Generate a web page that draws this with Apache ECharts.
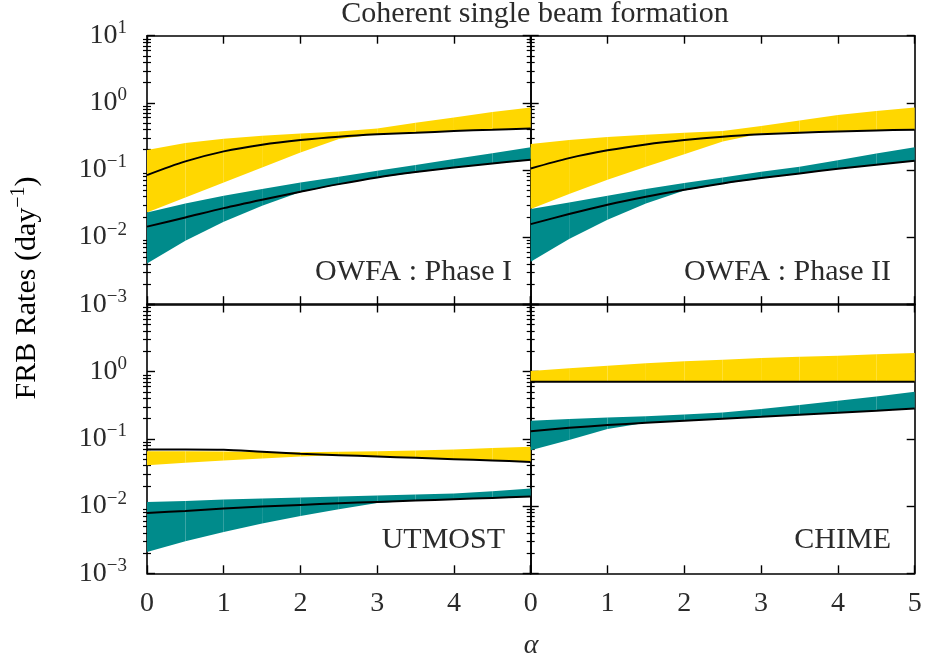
<!DOCTYPE html>
<html>
<head>
<meta charset="utf-8">
<script src="https://cdn.jsdelivr.net/npm/echarts@6/dist/echarts.min.js"></script>
<style>
  html, body { margin: 0; padding: 0; background: #fff; }
  #chart { width: 929px; height: 664px; }
</style>
</head>
<body>
<div id="chart"></div>
<script>
// alpha values, shared by every panel
const alpha = [0, 0.5, 1, 1.5, 2, 2.5, 3, 3.5, 4, 4.5, 5];

// OWFA : Phase I
const p1YellowHi  = [0.198, 0.251, 0.292, 0.323, 0.350, 0.375, 0.416, 0.505, 0.607, 0.728, 0.855];
const p1YellowLo  = [0.0233, 0.0390, 0.0652, 0.109, 0.182, 0.288, 0.342, 0.358, 0.380, 0.397, 0.416];
const p1YellowMid = [0.0838, 0.134, 0.189, 0.238, 0.279, 0.313, 0.339, 0.358, 0.380, 0.397, 0.416];
const p1TealHi    = [0.0233, 0.0317, 0.0413, 0.0519, 0.0652, 0.0792, 0.0973, 0.118, 0.145, 0.178, 0.217];
const p1TealLo    = [0.00405, 0.00881, 0.0169, 0.0293, 0.0468, 0.0609, 0.0766, 0.0919, 0.108, 0.124, 0.140];
const p1TealMid   = [0.0143, 0.0196, 0.0270, 0.0360, 0.0473, 0.0615, 0.0774, 0.0929, 0.109, 0.125, 0.142];

// OWFA : Phase II
const p2YellowHi  = [0.243, 0.279, 0.309, 0.335, 0.358, 0.380, 0.451, 0.547, 0.657, 0.754, 0.855];
const p2YellowLo  = [0.0261, 0.0437, 0.0714, 0.112, 0.172, 0.266, 0.350, 0.367, 0.380, 0.388, 0.397];
const p2YellowMid = [0.105, 0.150, 0.196, 0.240, 0.279, 0.313, 0.339, 0.358, 0.375, 0.388, 0.397];
const p2TealHi    = [0.0261, 0.0328, 0.0413, 0.0519, 0.0637, 0.0774, 0.0940, 0.112, 0.140, 0.176, 0.217];
const p2TealLo    = [0.00428, 0.00933, 0.0181, 0.0317, 0.0495, 0.0623, 0.0748, 0.0878, 0.103, 0.118, 0.136];
const p2TealMid   = [0.0156, 0.0220, 0.0303, 0.0399, 0.0507, 0.0630, 0.0757, 0.0888, 0.104, 0.120, 0.137];

// UTMOST
const p3YellowHi  = [0.0657, 0.0657, 0.0650, 0.0642, 0.0635, 0.0642, 0.0657, 0.0672, 0.0696, 0.0729, 0.0762];
const p3YellowLo  = [0.0406, 0.0440, 0.0477, 0.0511, 0.0547, 0.0573, 0.0547, 0.0523, 0.0499, 0.0477, 0.0455];
const p3YellowMid = [0.0696, 0.0696, 0.0688, 0.0642, 0.0601, 0.0573, 0.0547, 0.0523, 0.0499, 0.0477, 0.0455];
const p3TealHi    = [0.01155, 0.01195, 0.01252, 0.01295, 0.01340, 0.01387, 0.01435, 0.01485, 0.01537, 0.01666, 0.01826];
const p3TealLo    = [0.00208, 0.00300, 0.00413, 0.00549, 0.00714, 0.00898, 0.01116, 0.01209, 0.01266, 0.01325, 0.01387];
const p3TealMid   = [0.00792, 0.00848, 0.00919, 0.00984, 0.01042, 0.01103, 0.01155, 0.01209, 0.01266, 0.01325, 0.01387];

// CHIME
const p4YellowHi  = [1.023, 1.121, 1.228, 1.331, 1.426, 1.510, 1.598, 1.673, 1.732, 1.813, 1.897];
const p4YellowLo  = [0.709, 0.709, 0.709, 0.709, 0.709, 0.709, 0.709, 0.709, 0.709, 0.709, 0.709];
const p4YellowMid = [0.709, 0.709, 0.709, 0.709, 0.709, 0.709, 0.709, 0.709, 0.709, 0.709, 0.709];
const p4TealHi    = [0.1861, 0.1971, 0.2087, 0.218, 0.231, 0.248, 0.278, 0.319, 0.370, 0.429, 0.503];
const p4TealLo    = [0.0680, 0.0959, 0.1398, 0.1738, 0.1861, 0.1993, 0.2135, 0.229, 0.245, 0.262, 0.284];
const p4TealMid   = [0.1305, 0.1463, 0.1604, 0.1738, 0.1861, 0.1993, 0.2135, 0.229, 0.245, 0.262, 0.284];

const majorTicks = [0.001, 0.01, 0.1, 1, 10];
const minorTicks = [0.001, 0.01, 0.1, 1].flatMap(d => [2, 3, 4, 5, 6, 7, 8, 9].map(m => +(m * d).toPrecision(3)));

const panels = [
  { name: 'OWFA : Phase I',  yHi: p1YellowHi, yLo: p1YellowLo, yMid: p1YellowMid, tHi: p1TealHi, tLo: p1TealLo, tMid: p1TealMid },
  { name: 'OWFA : Phase II', yHi: p2YellowHi, yLo: p2YellowLo, yMid: p2YellowMid, tHi: p2TealHi, tLo: p2TealLo, tMid: p2TealMid },
  { name: 'UTMOST',          yHi: p3YellowHi, yLo: p3YellowLo, yMid: p3YellowMid, tHi: p3TealHi, tLo: p3TealLo, tMid: p3TealMid },
  { name: 'CHIME',           yHi: p4YellowHi, yLo: p4YellowLo, yMid: p4YellowMid, tHi: p4TealHi, tLo: p4TealLo, tMid: p4TealMid }
];

const FONT = '"Liberation Serif", "DejaVu Serif", serif';
const TXT = '#2b2b2b';
const YELLOW = '#FFD700';
const TEAL = '#008B8B';

const grids = [
  { left: 147,   top: 35.7,  width: 383.7, height: 268.5 },
  { left: 530.7, top: 35.7,  width: 384,   height: 268.5 },
  { left: 147,   top: 304.5, width: 383.7, height: 268.8 },
  { left: 530.7, top: 304.5, width: 384,   height: 268.8 }
].map(g => Object.assign({ containLabel: false }, g));

const tickRich = {
  b: { fontFamily: FONT, fontSize: 28, color: TXT },
  s: { fontFamily: FONT, fontSize: 19, color: TXT, padding: [0, 0, 15, 0] }
};
const titleRich = {
  b: { fontFamily: FONT, fontSize: 30, color: TXT },
  s: { fontFamily: FONT, fontSize: 20, color: TXT, padding: [0, 0, 16, 0] }
};

function expLabel(v) {
  const e = Math.round(Math.log10(v));
  return '{b|10}{s|' + (e < 0 ? '\u2212' + (-e) : e) + '}';
}

const frame = { show: true, onZero: false, lineStyle: { color: '#000', width: 1.6 } };

const xAxis = [];
const yAxis = [];
grids.forEach((g, i) => {
  const bottomRow = i >= 2;
  const leftCol = i % 2 === 0;
  xAxis.push({
    type: 'value', gridIndex: i, position: 'bottom', min: 0, max: 5, interval: 1,
    axisLine: frame,
    axisTick: { show: true, inside: true, length: 8, lineStyle: { color: '#000', width: 1.4 } },
    axisLabel: {
      show: bottomRow, margin: 16, fontFamily: FONT, fontSize: 28, color: TXT,
      formatter: v => (leftCol && v === 5) ? '' : String(v)
    },
    splitLine: { show: false }
  });
  xAxis.push({
    type: 'value', gridIndex: i, position: 'top', min: 0, max: 5, interval: 1,
    axisLine: frame,
    axisTick: { show: true, inside: true, length: 8, lineStyle: { color: '#000', width: 1.4 } },
    axisLabel: { show: false },
    splitLine: { show: false }
  });
  ['left', 'right'].forEach(pos => {
    yAxis.push({
      type: 'log', logBase: 10, gridIndex: i, position: pos, min: 0.001, max: 10,
      axisLine: frame,
      axisTick: { show: true, inside: true, length: 8, customValues: majorTicks, lineStyle: { color: '#000', width: 1.4 } },
      axisLabel: {
        show: pos === 'left' && leftCol, margin: 20,
        customValues: bottomRow ? majorTicks.slice(0, 4) : majorTicks,
        formatter: expLabel, rich: tickRich
      },
      splitLine: { show: false }
    });
  });
  ['left', 'right'].forEach(pos => {
    yAxis.push({
      type: 'log', logBase: 10, gridIndex: i, position: pos, min: 0.001, max: 10,
      axisLine: { show: false },
      axisTick: { show: true, inside: true, length: 4, customValues: minorTicks, lineStyle: { color: '#000', width: 1.2 } },
      axisLabel: { show: false },
      splitLine: { show: false }
    });
  });
});

// band drawn as one filled trapezoid per alpha step
function bandSeries(i, lo, hi, color) {
  const data = alpha.slice(0, -1).map((a, k) => [a, lo[k], hi[k], alpha[k + 1], lo[k + 1], hi[k + 1]]);
  return {
    type: 'custom', xAxisIndex: 2 * i, yAxisIndex: 4 * i,
    encode: { x: [0, 3], y: [1, 2, 4, 5] },
    data: data,
    renderItem: (params, api) => {
      const p0 = api.coord([api.value(0), api.value(2)]);
      const p1 = api.coord([api.value(3), api.value(5)]);
      const p2 = api.coord([api.value(3), api.value(4)]);
      const p3 = api.coord([api.value(0), api.value(1)]);
      return { type: 'polygon', shape: { points: [p0, p1, p2, p3] }, style: { fill: color } };
    },
    silent: true
  };
}

function lineSeries(i, vals) {
  return {
    type: 'line', xAxisIndex: 2 * i, yAxisIndex: 4 * i,
    data: alpha.map((a, k) => [a, vals[k]]),
    showSymbol: false, smooth: 0.3,
    lineStyle: { color: '#000', width: 2 },
    silent: true
  };
}

const series = [];
panels.forEach((p, i) => {
  series.push(bandSeries(i, p.yLo, p.yHi, YELLOW));
  series.push(bandSeries(i, p.tLo, p.tHi, TEAL));
});
panels.forEach((p, i) => {
  series.push(lineSeries(i, p.yMid));
  series.push(lineSeries(i, p.tMid));
});

const labelPos = [[512, 287], [891, 287], [505, 555], [891, 555]];
const graphic = panels.map((p, i) => ({
  type: 'text', x: labelPos[i][0], y: labelPos[i][1],
  style: { text: p.name, font: '30px ' + FONT, fill: TXT, align: 'right', verticalAlign: 'bottom' }
}));
graphic.push({
  type: 'text', x: 535, y: 14,
  style: { text: 'Coherent single beam formation', font: '30px ' + FONT, fill: TXT, align: 'center', verticalAlign: 'middle' }
});
graphic.push({
  type: 'text', x: 531, y: 646,
  style: { text: '\u03b1', font: 'italic 28px ' + FONT, fill: TXT, align: 'center', verticalAlign: 'middle' }
});
graphic.push({
  type: 'text', x: 27, y: 288, rotation: Math.PI / 2,
  style: {
    text: '{b|FRB Rates (day}{s|\u22121}{b|)}',
    rich: titleRich, align: 'center', verticalAlign: 'middle'
  }
});

const myChart = echarts.init(document.getElementById('chart'));
myChart.setOption({
  animation: false,
  backgroundColor: '#fff',
  grid: grids,
  xAxis: xAxis,
  yAxis: yAxis,
  series: series,
  graphic: graphic
});
</script>
</body>
</html>
